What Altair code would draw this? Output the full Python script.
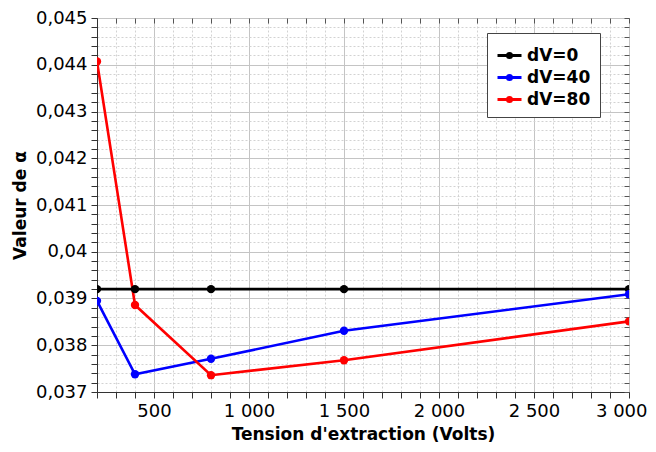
import altair as alt
import pandas as pd

# ---- data ----
voltages = [200, 400, 800, 1500, 3000]
series_names = ["dV=0", "dV=40", "dV=80"]
alpha_dv0 = [0.0392, 0.0392, 0.0392, 0.0392, 0.0392]
alpha_dv40 = [0.03895, 0.03738, 0.03771, 0.03831, 0.03909]
alpha_dv80 = [0.04407, 0.03886, 0.03736, 0.03768, 0.03851]
series_colors = ["#000000", "#0000ff", "#ff0000"]

x_tick_values = list(range(200, 3001, 100))
y_tick_values = [round(0.037 + 0.0002 * i, 4) for i in range(41)]

rows = []
for name, vals in zip(series_names, [alpha_dv0, alpha_dv40, alpha_dv80]):
    for v, a in zip(voltages, vals):
        rows.append({"V": v, "alpha": a, "serie": name})
df = pd.DataFrame(rows)

FONT = "DejaVu Sans"

x_scale = alt.Scale(domain=[200, 3000], nice=False, zero=False)
y_scale = alt.Scale(domain=[0.037, 0.045], nice=False, zero=False)

x_major = "datum.value % 500 == 0"
y_major = "round(datum.value * 10000) % 10 == 0"

x_axis = alt.Axis(
    values=x_tick_values,
    labelExpr=f"{x_major} ? replace(format(datum.value, ','), ',', ' ') : ''",
    labelOverlap=False,
    labelFlush=True,
    labelFlushOffset=18,
    title="Tension d'extraction (Volts)",
    grid=True,
    gridColor={"condition": {"test": x_major, "value": "#c4c4c4"}, "value": "#d2d2d2"},
    gridDash={"condition": {"test": x_major, "value": []}, "value": [2, 2]},
    gridWidth=1,
    tickSize=6,
    tickColor="#333333",
    domainColor="#333333",
    labelPadding=4,
    titlePadding=6,
)

y_axis = alt.Axis(
    values=y_tick_values,
    labelExpr=f"{y_major} ? replace(format(datum.value, '.3~f'), '.', ',') : ''",
    labelOverlap=False,
    labelFlush=False,
    title="Valeur de α",
    grid=True,
    gridColor={"condition": {"test": y_major, "value": "#c4c4c4"}, "value": "#d2d2d2"},
    gridDash={"condition": {"test": y_major, "value": []}, "value": [2, 2]},
    gridWidth=1,
    tickSize=6,
    tickColor="#333333",
    domainColor="#333333",
    labelPadding=4,
    titlePadding=6,
)

legend_symbol = "M-1,0H1M-0.17,0A0.17,0.17,0,1,1,0.17,0A0.17,0.17,0,1,1,-0.17,0Z"

lines = alt.Chart(df).mark_line(
    strokeWidth=2.6,
    clip=True,
    point=alt.OverlayMarkDef(filled=True, size=70, clip=True),
).encode(
    x=alt.X("V:Q", scale=x_scale, axis=x_axis),
    y=alt.Y("alpha:Q", scale=y_scale, axis=y_axis),
    color=alt.Color(
        "serie:N",
        scale=alt.Scale(domain=series_names, range=series_colors),
        legend=alt.Legend(
            title=None,
            orient="none",
            legendX=390,
            legendY=15,
            symbolType=legend_symbol,
            symbolSize=576,
            symbolStrokeWidth=3,
            labelFont=FONT,
            labelFontSize=17,
            labelFontWeight="bold",
            labelColor="#000000",
            strokeColor="#444444",
            fillColor="#ffffff",
            padding=9,
            rowPadding=0,
            symbolOffset=0,
        ),
    ),
    order=alt.Order("V:Q"),
)

mirror = alt.Chart(df).mark_point(opacity=0).encode(
    x=alt.X(
        "V:Q",
        scale=x_scale,
        axis=alt.Axis(
            orient="top", values=x_tick_values, labels=False, grid=False,
            domain=False, tickSize=5, offset=-5, tickColor="#555555", title=None,
        ),
    ),
    y=alt.Y(
        "alpha:Q",
        scale=y_scale,
        axis=alt.Axis(
            orient="right", values=y_tick_values, labels=False, grid=False,
            domain=False, tickSize=5, offset=-5, tickColor="#555555", title=None,
        ),
    ),
)

chart = (
    alt.layer(lines, mirror)
    .resolve_axis(x="independent", y="independent")
    .properties(
        width=532,
        height=374,
        autosize=alt.AutoSizeParams(type="none"),
        padding={"left": 89, "top": 10, "right": 19, "bottom": 52},
        background="#ffffff",
    )
    .configure_view(stroke="#666666", strokeWidth=1)
    .configure_axis(
        labelFont=FONT,
        labelFontSize=18,
        labelColor="#000000",
        titleFont=FONT,
        titleFontSize=17,
        titleFontWeight="bold",
        titleColor="#000000",
    )
)

chart.save("out.html", embed_options={"renderer": "svg", "actions": False})
